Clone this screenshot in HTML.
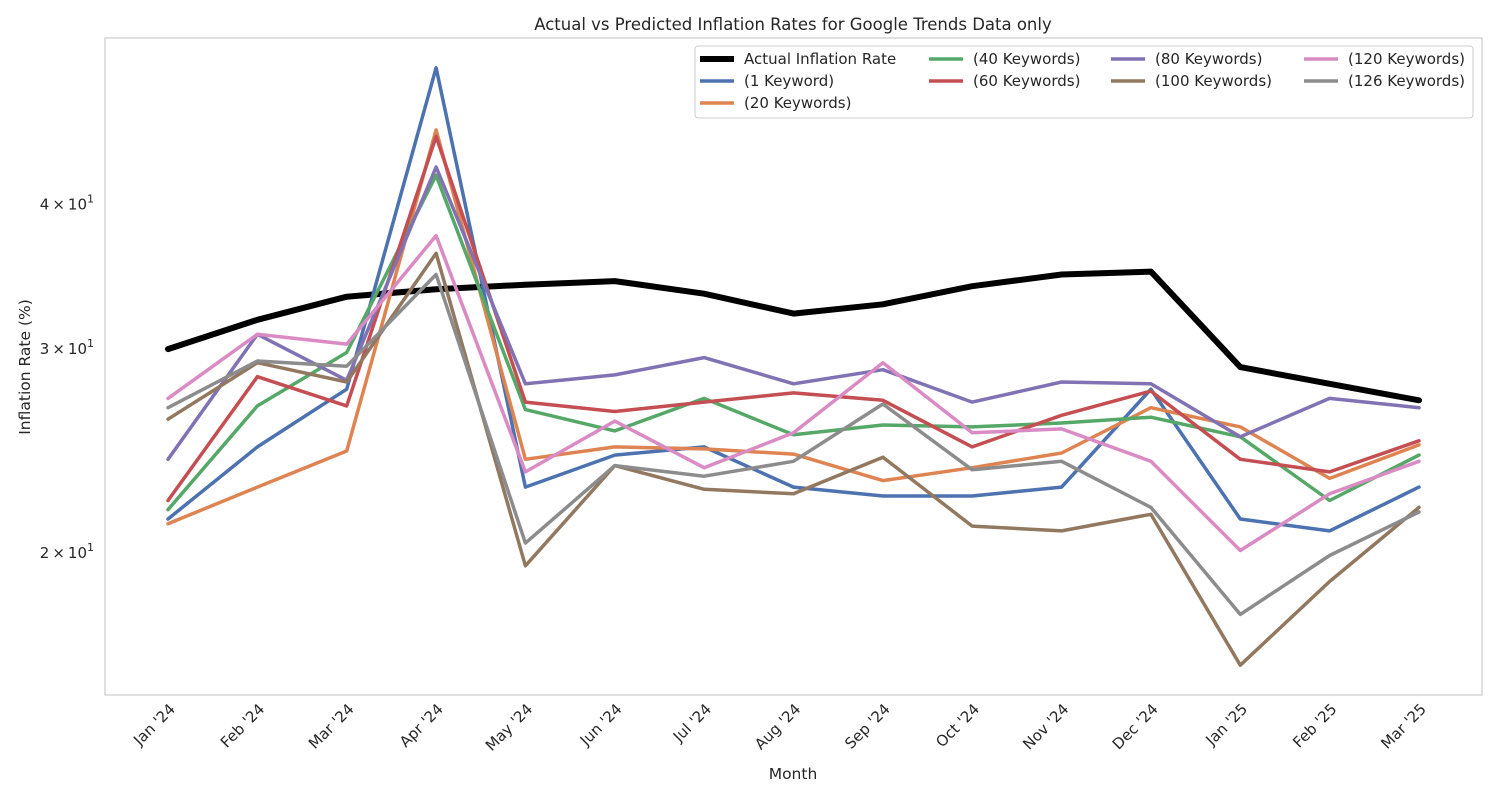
<!DOCTYPE html>
<html><head><meta charset="utf-8"><style>
body{margin:0;background:#fff;font-family:"DejaVu Sans","Liberation Sans",sans-serif;}
</style></head><body>
<svg id="chart" width="1500" height="800" xmlns="http://www.w3.org/2000/svg" font-family="DejaVu Sans, Liberation Sans, sans-serif">
<rect width="1500" height="800" fill="#fff"/>
<text x="793" y="30" text-anchor="middle" font-size="16.5" fill="#262626">Actual vs Predicted Inflation Rates for Google Trends Data only</text>
<rect x="105" y="38" width="1377" height="657" fill="none" stroke="#cccccc" stroke-width="1.2"/>
<g id="yticks"></g><g id="xticks"></g><g id="lines"></g>
<text x="793" y="779" text-anchor="middle" font-size="15.5" fill="#262626">Month</text>
<text transform="translate(30,367) rotate(-90)" text-anchor="middle" font-size="15.5" fill="#262626">Inflation Rate (%)</text>
<g id="legend">
<rect x="695" y="46" width="778" height="72" fill="#fff" stroke="#cccccc" rx="3"/>
</g>
</svg>
<script>
const months=["Jan '24","Feb '24","Mar '24","Apr '24","May '24","Jun '24","Jul '24","Aug '24","Sep '24","Oct '24","Nov '24","Dec '24","Jan '25","Feb '25","Mar '25"];
const seriesNames=["Actual Inflation Rate","(1 Keyword)","(20 Keywords)","(40 Keywords)","(60 Keywords)","(80 Keywords)","(100 Keywords)","(120 Keywords)","(126 Keywords)"];
const actual=[30.0,31.8,33.3,33.8,34.1,34.35,33.5,32.2,32.8,34.0,34.8,35.0,28.95,28.0,27.1];
const kw1=[21.4,24.7,27.7,52.5,22.8,24.3,24.7,22.8,22.4,22.4,22.8,27.7,21.4,20.9,22.8];
const kw20=[21.2,22.8,24.5,46.4,24.1,24.7,24.6,24.35,23.1,23.7,24.4,26.7,25.7,23.2,24.8];
const kw40=[21.8,26.8,29.8,42.4,26.6,25.5,27.2,25.3,25.8,25.7,25.9,26.2,25.2,22.2,24.3];
const kw60=[22.2,28.4,26.8,45.8,27.0,26.5,27.0,27.5,27.1,24.7,26.3,27.6,24.1,23.5,25.0];
const kw80=[24.1,30.9,28.2,43.1,28.0,28.5,29.5,28.0,28.8,27.0,28.1,28.0,25.2,27.2,26.7];
const kw100=[26.1,29.2,28.1,36.3,19.5,23.8,22.7,22.5,24.2,21.1,20.9,21.6,16.0,18.9,21.9];
const kw120=[27.2,30.9,30.3,37.6,23.5,26.0,23.7,25.4,29.2,25.4,25.6,24.0,20.1,22.5,24.0];
const kw126=[26.7,29.3,29.0,34.8,20.4,23.8,23.3,24.0,26.9,23.6,24.0,21.9,17.7,19.9,21.7];
const yTicks=[20,30,40];
const yTickLabels=["2","3","4"];
const colors=["#000000","#4c72b0","#dd8452","#55a868","#c44e52","#8172b3","#937860","#da8bc3","#8c8c8c"];
const allSeries=[actual,kw1,kw20,kw40,kw60,kw80,kw100,kw120,kw126];
const NS="http://www.w3.org/2000/svg";
const x0=168,x1=1419,yTop=38,yBot=695,vMin=15.08,vMax=55.7;
function xs(i){return x0+(x1-x0)*i/(months.length-1);}
function ys(v){return yBot-(yBot-yTop)*Math.log(v/vMin)/Math.log(vMax/vMin);}
function mk(tag,attrs,parent){const e=document.createElementNS(NS,tag);for(const k in attrs)e.setAttribute(k,attrs[k]);parent.appendChild(e);return e;}
const yg=document.getElementById('yticks');
yTicks.forEach((v,i)=>{
  const t=mk('text',{x:94,y:ys(v)+5,'text-anchor':'end','font-size':15,fill:'#262626'},yg);
  
  
  t.innerHTML=yTickLabels[i]+'\u2009×\u200910<tspan dy="-7" font-size="11">1</tspan>';
});
const xg=document.getElementById('xticks');
months.forEach((m,i)=>{
  const x=xs(i)+8,y=710;
  const t=mk('text',{x:x,y:y,'text-anchor':'end','font-size':15,fill:'#262626',transform:`rotate(-45 ${x} ${y})`},xg);
  
  
  t.textContent=m;
});
const lg=document.getElementById('lines');
allSeries.forEach((s,k)=>{
  const d=s.map((v,i)=>(i?'L':'M')+xs(i).toFixed(1)+' '+ys(v).toFixed(1)).join(' ');
  const p=mk('path',{d:d,fill:'none',stroke:colors[k],'stroke-width':k===0?6:3.5,'stroke-linejoin':'round','stroke-linecap':'round'},lg);
  
  
});
const leg=document.getElementById('legend');
const cols=[[0,1,2],[3,4],[5,6],[7,8]];
const colX=[700,929,1111,1304];
cols.forEach((c,ci)=>{c.forEach((k,ri)=>{
  const y=59+ri*22;
  const l=mk('line',{x1:colX[ci],x2:colX[ci]+34,y1:y,y2:y,stroke:colors[k],'stroke-width':k===0?6:3.5},leg);
  
  
  const t=mk('text',{x:colX[ci]+44,y:y+5,'font-size':15,fill:'#262626'},leg);
  
  
  t.textContent=seriesNames[k];
});});
</script>
</body></html>
